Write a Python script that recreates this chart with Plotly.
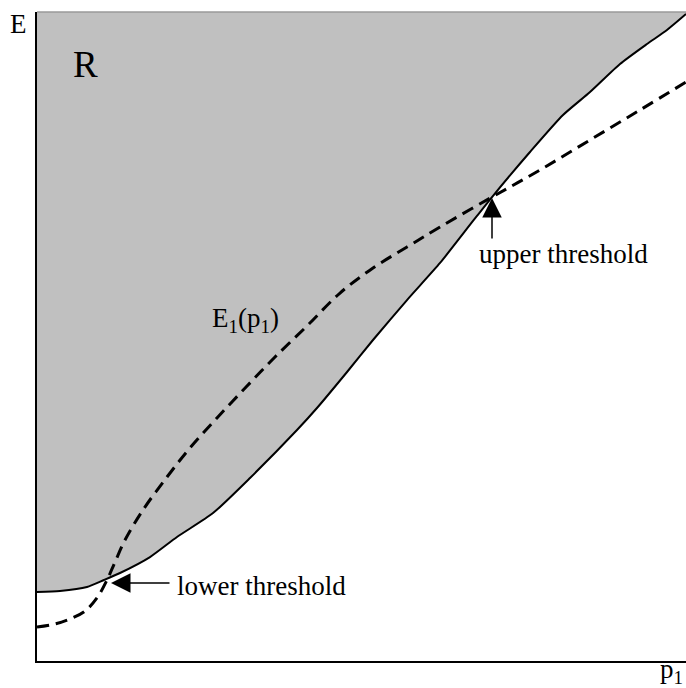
import plotly.graph_objects as go

# Boundary of region R (solid curve), p1 in [0,1], E in [0,1]
boundary_p1 = [0.0, 0.0354, 0.0770, 0.1032, 0.1279, 0.1741, 0.2157, 0.2712, 0.3282,
               0.4006, 0.4314, 0.4777, 0.5177, 0.5701, 0.6210, 0.6718, 0.7011, 0.7596,
               0.8105, 0.8521, 0.8983, 0.9399, 0.9707, 1.0]
boundary_E = [0.1063, 0.1079, 0.1140, 0.1248, 0.1356, 0.1602, 0.1911, 0.2280, 0.2820,
              0.3559, 0.3898, 0.4453, 0.4946, 0.5562, 0.6133, 0.6780, 0.7149, 0.7843,
              0.8413, 0.8767, 0.9199, 0.9507, 0.9723, 0.9969]

# E1(p1) dashed curve
e1_p1 = [0.0, 0.0277, 0.0508, 0.0740, 0.0924, 0.1079, 0.1202, 0.1356, 0.1633, 0.2003,
         0.2357, 0.2773, 0.3236, 0.3667, 0.4160, 0.4669, 0.5177, 0.5701, 0.6210, 0.7011,
         0.7750, 0.8521, 0.9291, 1.0]
e1_E = [0.0524, 0.0570, 0.0647, 0.0770, 0.0971, 0.1248, 0.1525, 0.1864, 0.2327, 0.2835,
        0.3282, 0.3744, 0.4237, 0.4684, 0.5162, 0.5670, 0.6055, 0.6379, 0.6687, 0.7149,
        0.7565, 0.8028, 0.8490, 0.8921]

W, H = 686, 688
L, R_, T, B = 37, 0, 12, 27
PW, PH = W - L - R_, H - T - B


def px(x):
    return (x - L) / PW


def py(y):
    return (H - B - y) / PH


fig = go.Figure()

# shaded region R
fig.add_trace(go.Scatter(
    x=boundary_p1 + [1.0, 0.0], y=boundary_E + [1.0, 1.0],
    fill="toself", fillcolor="#c0c0c0", line=dict(width=0, shape="spline", smoothing=0.6),
    mode="lines", hoverinfo="skip", showlegend=False))

# boundary
fig.add_trace(go.Scatter(
    x=boundary_p1, y=boundary_E, mode="lines",
    line=dict(color="black", width=2, shape="spline", smoothing=0.6), showlegend=False))

# E1(p1)
fig.add_trace(go.Scatter(
    x=e1_p1, y=e1_E, mode="lines",
    line=dict(color="black", width=3, dash="12px,7px", shape="spline", smoothing=1.0),
    showlegend=False))

font = dict(family="Liberation Serif", size=27, color="black")

annotations = [
    dict(text="E", x=px(18), y=py(24), xref="paper", yref="paper", showarrow=False,
         font=font, xanchor="center", yanchor="middle"),
    dict(text="p<sub>1</sub>", x=px(671), y=py(671), xref="paper", yref="paper",
         showarrow=False, font=font, xanchor="center", yanchor="middle"),
    dict(text="R", x=px(85), y=py(64), xref="paper", yref="paper", showarrow=False,
         font=dict(family="Liberation Serif", size=37, color="black"),
         xanchor="center", yanchor="middle"),
    dict(text="E<sub>1</sub>(p<sub>1</sub>)", x=px(245), y=py(320), xref="paper",
         yref="paper", showarrow=False, font=font, xanchor="center", yanchor="middle"),
    dict(text="lower threshold", x=px(175), y=py(586), xref="paper", yref="paper",
         showarrow=False, font=font, xanchor="left", yanchor="middle"),
    dict(text="upper threshold", x=px(563), y=py(254), xref="paper", yref="paper",
         showarrow=False, font=font, xanchor="center", yanchor="middle"),
    # arrows
    dict(text="", x=px(111), y=py(583), xref="paper", yref="paper", showarrow=True,
         ax=60, ay=0, arrowhead=2, arrowsize=2.6, arrowwidth=1.5, arrowcolor="black"),
    dict(text="", x=px(492), y=py(198), xref="paper", yref="paper", showarrow=True,
         ax=0, ay=42, arrowhead=2, arrowsize=2.6, arrowwidth=1.5, arrowcolor="black"),
]

fig.update_layout(
    width=W, height=H,
    margin=dict(l=L, r=R_, t=T, b=B),
    paper_bgcolor="white", plot_bgcolor="white",
    xaxis=dict(range=[0, 1], showgrid=False, zeroline=False, showticklabels=False,
               ticks="", showline=True, linecolor="black", linewidth=2),
    yaxis=dict(range=[0, 1], showgrid=False, zeroline=False, showticklabels=False,
               ticks="", showline=True, linecolor="black", linewidth=2),
    annotations=annotations,
    shapes=[dict(type="line", xref="paper", yref="paper", x0=0, x1=1, y0=1, y1=1,
                 line=dict(color="#9a9a9a", width=1.5))],
)

fig.write_html(
    "out.html",
    config={"displayModeBar": False},
    post_script="document.body.style.margin='0';document.body.style.overflow='hidden';",
)
